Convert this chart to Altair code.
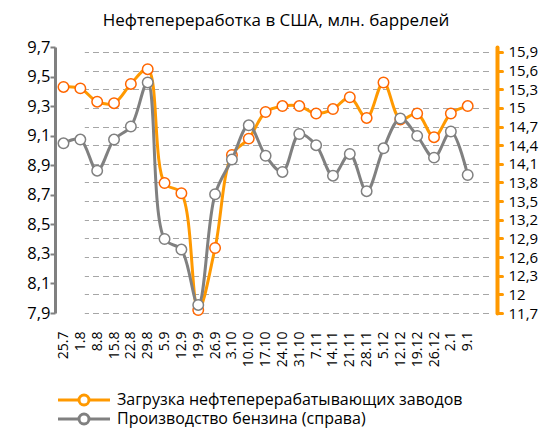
import altair as alt
import pandas as pd

dates = ["25.7", "1.8", "8.8", "15.8", "22.8", "29.8", "5.9", "12.9", "19.9", "26.9",
         "3.10", "10.10", "17.10", "24.10", "31.10", "7.11", "14.11", "21.11", "28.11",
         "5.12", "12.12", "19.12", "26.12", "2.1", "9.1"]
refinery = [9.43, 9.42, 9.33, 9.32, 9.45, 9.55, 8.78, 8.71, 7.92, 8.34,
            8.97, 9.08, 9.26, 9.30, 9.30, 9.25, 9.28, 9.36, 9.22,
            9.46, 9.21, 9.25, 9.09, 9.25, 9.30]
gasoline = [14.43, 14.49, 13.99, 14.49, 14.70, 15.41, 12.89, 12.72, 11.83, 13.61,
            14.17, 14.72, 14.23, 13.97, 14.58, 14.40, 13.91, 14.26, 13.66,
            14.35, 14.83, 14.55, 14.20, 14.62, 13.92]
left_ticks = [7.9, 8.1, 8.3, 8.5, 8.7, 8.9, 9.1, 9.3, 9.5, 9.7]
right_ticks = [11.7, 12.0, 12.3, 12.6, 12.9, 13.2, 13.5, 13.8, 14.1, 14.4, 14.7,
               15.0, 15.3, 15.6, 15.9]
series_names = ["Загрузка нефтеперерабатывающих заводов", "Производство бензина (справа)"]
series_colors = ["#FF9900", "#808080"]
title_text = "Нефтепереработка в США, млн. баррелей"

df = pd.DataFrame({"date": dates, "refinery": refinery, "gasoline": gasoline})

FONT = "Open Sans"

x_axis = alt.Axis(title=None, labelAngle=270, labelAlign="right", labelBaseline="middle",
                  labelPadding=18, ticks=False, domain=False, grid=False,
                  labelFontSize=14, labelFont=FONT, labelOverlap=False, labelColor="#000000")
x_scale = alt.Scale(type="point", range=[8.5, 412.7], padding=0)
x_enc = alt.X("date:N", sort=dates, scale=x_scale, axis=x_axis)

left_axis = alt.Axis(orient="left", values=left_ticks, title=None, grid=False,
                     labelExpr="replace(format(datum.value, '.1f'), '.', ',')",
                     domainColor="#808080", domainWidth=3, tickColor="#808080",
                     tickWidth=2, tickSize=5, labelFontSize=16.5, labelFont=FONT,
                     labelColor="#000000", labelPadding=0, labelOverlap=False)
right_axis = alt.Axis(orient="right", values=right_ticks, title=None, grid=True,
                      gridColor="#A6A6A6", gridDash=[6, 4], gridWidth=1,
                      labelExpr="replace(format(datum.value, '~g'), '.', ',')",
                      domainColor="#FF9900", domainWidth=4, domainCap="round",
                      tickColor="#FF9900", tickWidth=3, tickCap="round", tickSize=5,
                      labelFontSize=15, labelFont=FONT, labelColor="#000000",
                      labelPadding=6, labelOverlap=False)
left_scale = alt.Scale(domain=[7.9, 9.7], nice=False, zero=False)
right_scale = alt.Scale(domain=[11.7, 15.98], nice=False, zero=False)

color_scale = alt.Scale(domain=series_names, range=series_colors)
legend_path = "M-5.2,0L-1,0M1,0L5.2,0M-1,0A1,1,0,1,1,1,0A1,1,0,1,1,-1,0"
legend = alt.Legend(title=None, orient="none", legendX=21, legendY=345, direction="vertical",
                    symbolType=legend_path, symbolSize=100, symbolStrokeWidth=3,
                    symbolFillColor="white", labelFontSize=16, labelFont=FONT,
                    labelColor="#000000", labelLimit=600, labelOffset=25, rowPadding=-4)
color_enc = alt.Color("series:N", scale=color_scale, legend=legend)

y_left = alt.Y("refinery:Q", scale=left_scale, axis=left_axis)
y_right = alt.Y("gasoline:Q", scale=right_scale, axis=right_axis)

orange_line = alt.Chart(df).transform_calculate(series=f"'{series_names[0]}'").mark_line(
    strokeWidth=3, interpolate="catmull-rom").encode(x=x_enc, y=y_left, color=color_enc)
orange_pts = alt.Chart(df).mark_point(filled=False, fill="white", fillOpacity=1, stroke="#FF6600",
                                      strokeWidth=1.5, size=110, opacity=1).encode(
    x=x_enc, y=y_left)

gray_line = alt.Chart(df).transform_calculate(series=f"'{series_names[1]}'").mark_line(
    strokeWidth=3, interpolate="catmull-rom").encode(x=x_enc, y=y_right, color=color_enc)
gray_pts = alt.Chart(df).mark_point(filled=False, fill="white", fillOpacity=1, stroke="#808080",
                                    strokeWidth=1.5, size=110, opacity=1).encode(
    x=x_enc, y=y_right)

left_layer = alt.layer(orange_line, orange_pts)
right_layer = alt.layer(gray_line, gray_pts)

chart = alt.layer(left_layer, right_layer).resolve_scale(y="independent").properties(
    width=442, height=266,
    title=alt.Title(title_text, fontSize=17, font=FONT, fontWeight="normal",
                    anchor="middle", offset=9, color="#000000"),
    padding={"left": 47, "top": 39, "right": 45, "bottom": 119},
    autosize=alt.AutoSizeParams(type="none"),
).configure_view(strokeWidth=0)

chart.save("out.html", embed_options={"renderer": "svg", "actions": False})
